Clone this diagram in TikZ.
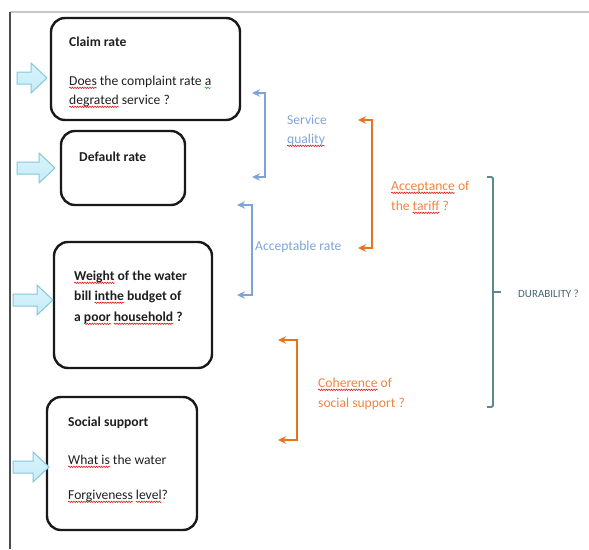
\documentclass[tikz,border=0pt]{standalone}
\usepackage{fontspec}
\setmainfont{Carlito}
\usetikzlibrary{arrows.meta,decorations.pathmorphing}
\definecolor{qblue}{HTML}{7DA3D8}
\definecolor{tblue}{HTML}{7FA4DA}
\definecolor{qorange}{HTML}{E8731F}
\definecolor{torange}{HTML}{EE8440}
\definecolor{dur}{HTML}{5E8793}
\definecolor{afill}{HTML}{C3ECF8}
\definecolor{aedge}{HTML}{84C6DC}
\newsavebox\wbox
\newcommand\wavy[2]{\sbox\wbox{#2}\rlap{\tikz[overlay,x=1pt,y=1pt,baseline=0pt]\draw[#1,line width=0.5pt,decorate,decoration={snake,amplitude=0.7pt,segment length=2.5pt}] (0,-2.8) -- (\the\wd\wbox,-2.8);}\usebox\wbox}
\newcommand\rw[1]{\wavy{red!85!black}{#1}}
\newcommand\gw[1]{\wavy{green!60!black}{#1}}
\newcommand\blockarrow[3]{%
  \draw[barrow] (#1,#3-6) -- (#2-16,#3-6) -- (#2-16,#3-15) -- (#2,#3)
    -- (#2-16,#3+15) -- (#2-16,#3+6) -- (#1,#3+6) -- cycle;}
\begin{document}
\begin{tikzpicture}[x=1pt,y=-1pt,
  box/.style={draw=black!90, line width=2.4pt, rounded corners=14pt, inner sep=0pt},
  txt/.style={anchor=base west, inner sep=0pt, text=black!88, font=\fontsize{13.6}{16}\selectfont},
  btxt/.style={txt, font=\fontsize{13.6}{16}\selectfont\bfseries},
  bluetxt/.style={txt, text=tblue},
  orangetxt/.style={txt, text=torange},
  barrow/.style={top color=afill!60, bottom color=afill, draw=aedge, line width=1pt, line join=miter},
  brk/.style={line width=1.7pt, {Stealth[length=8pt,width=7.5pt]}-{Stealth[length=8pt,width=7.5pt]}},
]
\useasboundingbox (0,0) rectangle (589,549);
% frame
\draw[black!22, line width=1.5pt] (10,12) -- (589,12);
\draw[black!70, line width=1.5pt] (10,12) -- (10,549);

% boxes
\node[box, minimum width=189pt, minimum height=102pt] (b1) at (145.5,69) {};
\node[box, minimum width=124pt, minimum height=74pt] (b2) at (123,168) {};
\node[box, minimum width=158pt, minimum height=126pt] (b3) at (133,305) {};
\node[box, minimum width=150pt, minimum height=133pt] (b4) at (122,463.5) {};

% block arrows
\blockarrow{17}{47}{78}
\blockarrow{17}{55}{168}
\blockarrow{13}{53}{300}
\blockarrow{13}{49}{467}

% box texts
\node[btxt] (t1a) at (69,46) {Claim rate};
\node[txt] (t1b) at (69,85) {\rw{Does} the complaint rate \gw{a}};
\node[txt] (t1c) at (69,104) {\rw{degrated} service ?};
\node[btxt] (t2a) at (79,161) {Default rate};
\node[btxt] (t3a) at (74,280) {\rw{Weight} of the water};
\node[btxt] (t3b) at (74,300) {bill \rw{inthe} budget of};
\node[btxt] (t3c) at (74,321) {a \rw{poor} \rw{household} ?};
\node[btxt] (t4a) at (68,426) {Social support};
\node[txt] (t4b) at (68,464) {\rw{What is} the water};
\node[txt] (t4c) at (68,499) {\rw{Forgiveness} \rw{level}?};

% blue brackets
\coordinate (sq1) at (252,93);
\coordinate (sq2) at (252,177);
\draw[brk, qblue] (sq1) -- ++(13,0) |- (sq2);
\coordinate (ar1) at (237,205);
\coordinate (ar2) at (237,295);
\draw[brk, qblue] (ar1) -- ++(15,0) |- (ar2);
\node[bluetxt] (sqa) at (287,124) {Service};
\node[bluetxt] (sqb) at (287,143) {\rw{quality}};
\node[bluetxt] (arl) at (255,250) {Acceptable rate};

% orange brackets
\coordinate (at1) at (358,120);
\coordinate (at2) at (358,248);
\draw[brk, qorange] (at1) -- ++(14,0) |- (at2);
\coordinate (co1) at (278,340);
\coordinate (co2) at (278,440);
\draw[brk, qorange] (co1) -- ++(19,0) |- (co2);
\node[orangetxt] (ata) at (391,190) {\rw{Acceptance} of};
\node[orangetxt] (atb) at (391,210) {the \rw{tariff} ?};
\node[orangetxt] (coa) at (318,387) {\rw{Coherence} of};
\node[orangetxt] (cob) at (318,407) {social support ?};

% durability brace
\coordinate (du1) at (487,177);
\coordinate (du2) at (487,407);
\coordinate (dum) at (493,292);
\draw[dur, line width=1.8pt, rounded corners=1.5pt] (du1) -- ++(6,0) |- (du2);
\draw[dur, line width=1.8pt] (dum) -- ++(8,0);
\node[txt, text=dur!75!black, font=\fontsize{11}{13}\selectfont] (dl) at (518,297) {DURABILITY ?};
\end{tikzpicture}
\end{document}
